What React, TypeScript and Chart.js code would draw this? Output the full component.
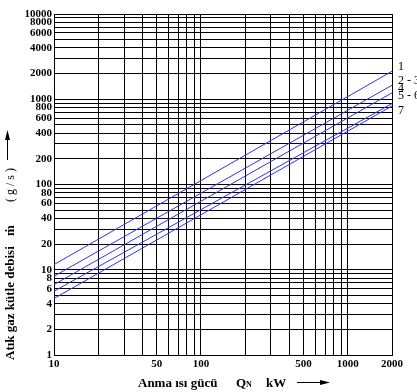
import React, { useEffect, useRef } from 'react';
import { Chart, registerables } from 'chart.js';

Chart.register(...registerables);

// ---- data ----
const xEnds = [10, 2000];
const seriesNames = ['1', '2 - 3', '4', '5 - 6', '7'];
const series1 = [11.5, 2130];
const series23 = [8.4, 1460];
const series4 = [6.7, 1190];
const series56 = [5.6, 890];
const series7 = [4.6, 835];

const xGridValues = [10, 20, 30, 40, 50, 60, 70, 80, 90, 100, 200, 300, 400, 500, 600, 700, 800, 900, 1000, 2000];
const xTickLabels = [10, 50, 100, 500, 1000, 2000];
const yGridValues = [
  1, 2, 3, 4, 5, 6, 7, 8, 9,
  10, 20, 30, 40, 50, 60, 70, 80, 90,
  100, 200, 300, 400, 500, 600, 700, 800, 900,
  1000, 2000, 3000, 4000, 5000, 6000, 7000, 8000, 9000,
  10000,
];
const yTickLabels = [1, 2, 4, 6, 8, 10, 20, 40, 60, 80, 100, 200, 400, 600, 800, 1000, 2000, 4000, 6000, 8000, 10000];

const xTitle = 'Anma ısı gücü';
const xUnitQ = 'Q';
const xUnitSub = 'N';
const xUnit = 'kW';
const yTitle = 'Atık gaz kütle debisi';
const yMdot = 'ṁ';
const yUnit = '( g / s )';

const SERIF = '"Liberation Serif", "DejaVu Serif", serif';
const LINE_BLUE = '#3030ff';

const allSeries = [series1, series23, series4, series56, series7];

const annotations = {
  id: 'annotations',
  afterDraw(chart: any) {
    const ctx = chart.ctx;
    ctx.save();
    ctx.fillStyle = '#000';
    ctx.strokeStyle = '#000';

    // x title
    ctx.font = `bold 13px ${SERIF}`;
    ctx.textBaseline = 'alphabetic';
    ctx.textAlign = 'left';
    ctx.fillText(xTitle, 138, 387);
    ctx.fillText(xUnitQ, 236, 387);
    ctx.font = `bold 8px ${SERIF}`;
    ctx.fillText(xUnitSub, 246, 387);
    ctx.font = `bold 13px ${SERIF}`;
    ctx.fillText(xUnit, 266, 387);
    // x arrow
    ctx.lineWidth = 1;
    ctx.beginPath();
    ctx.moveTo(297, 382.5);
    ctx.lineTo(322, 382.5);
    ctx.stroke();
    ctx.beginPath();
    ctx.moveTo(320, 380);
    ctx.lineTo(330, 382.5);
    ctx.lineTo(320, 385);
    ctx.closePath();
    ctx.fill();

    // y title (rotated)
    ctx.save();
    ctx.translate(11, 360);
    ctx.rotate(-Math.PI / 2);
    ctx.textBaseline = 'middle';
    ctx.textAlign = 'left';
    ctx.font = `bold 13px ${SERIF}`;
    ctx.fillText(yTitle, 0, 0);
    ctx.fillText(yMdot, 124, 0);
    ctx.font = `12px ${SERIF}`;
    ctx.fillText(yUnit, 158, 0);
    ctx.restore();
    // y arrow
    ctx.beginPath();
    ctx.moveTo(7.5, 160);
    ctx.lineTo(7.5, 138);
    ctx.stroke();
    ctx.beginPath();
    ctx.moveTo(5, 140);
    ctx.lineTo(7.5, 130);
    ctx.lineTo(10, 140);
    ctx.closePath();
    ctx.fill();

    // series labels at right
    ctx.font = `12px ${SERIF}`;
    ctx.textBaseline = 'middle';
    ctx.textAlign = 'left';
    const labelYs = [67, 80.5, 89, 96, 110.5];
    seriesNames.forEach((n, i) => ctx.fillText(n, 398, labelYs[i]));
    ctx.restore();
  },
};

export default function App() {
  const ref = useRef<HTMLCanvasElement | null>(null);
  useEffect(() => {
    if (!ref.current) return;
    const tickFont = { family: SERIF, size: 11, weight: 'bold' as const };
    const chart = new Chart(ref.current, {
      type: 'scatter',
      data: {
        datasets: allSeries.map((s, i) => ({
          label: seriesNames[i],
          data: s.map((y, j) => ({ x: xEnds[j], y })),
          showLine: true,
          borderColor: LINE_BLUE,
          backgroundColor: LINE_BLUE,
          borderWidth: 1,
          pointRadius: 0,
          fill: false,
        })),
      },
      options: {
        animation: false,
        responsive: false,
        maintainAspectRatio: false,
        layout: { padding: { left: 0, top: 14, right: 25, bottom: 0 } },
        plugins: { legend: { display: false }, tooltip: { enabled: false } },
        scales: {
          x: {
            type: 'logarithmic',
            min: 10,
            max: 2000,
            afterBuildTicks: (s: any) => {
              s.ticks = xGridValues.map((v) => ({ value: v }));
            },
            afterFit: (s: any) => {
              s.height = 37;
            },
            ticks: {
              autoSkip: false,
              maxRotation: 0,
              minRotation: 0,
              padding: 3,
              color: '#000',
              font: tickFont,
              callback: (v: any) => (xTickLabels.includes(Number(v)) ? String(v) : ''),
            },
            grid: { color: '#000', lineWidth: 1, drawTicks: false },
            border: { color: '#000', width: 1 },
          },
          y: {
            type: 'logarithmic',
            min: 1,
            max: 10000,
            afterBuildTicks: (s: any) => {
              s.ticks = yGridValues.map((v) => ({ value: v }));
            },
            afterFit: (s: any) => {
              s.width = 54;
            },
            ticks: {
              autoSkip: false,
              padding: 2,
              color: '#000',
              font: tickFont,
              callback: (v: any) => (yTickLabels.includes(Number(v)) ? String(v) : ''),
            },
            grid: { color: '#000', lineWidth: 1, drawTicks: false },
            border: { color: '#000', width: 1 },
          },
        },
      },
      plugins: [annotations],
    });
    return () => chart.destroy();
  }, []);
  return (
    <div style={{ position: 'absolute', left: 0, top: 0, width: 417, height: 392, background: '#fff' }}>
      <canvas ref={ref} width={417} height={392} style={{ width: 417, height: 392, display: 'block' }} />
    </div>
  );
}
